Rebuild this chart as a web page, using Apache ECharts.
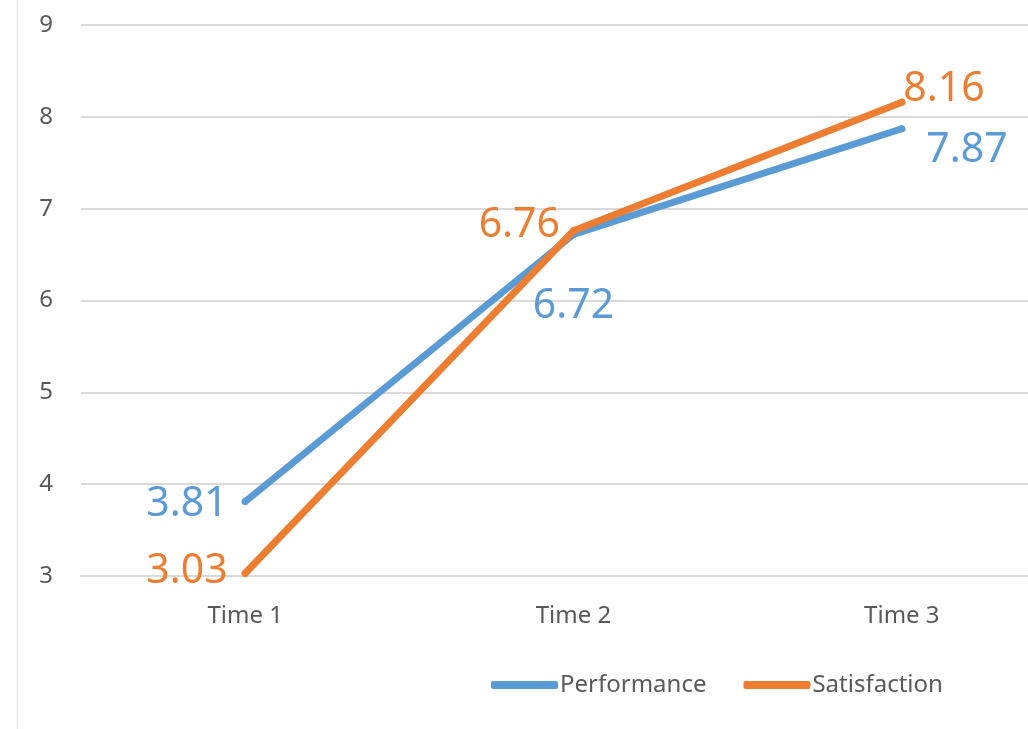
<!DOCTYPE html>
<html>
<head>
<meta charset="utf-8">
<title>Performance and Satisfaction over Time</title>
<script src="https://cdn.jsdelivr.net/npm/echarts@6/dist/echarts.min.js"></script>
<style>
  html, body { margin: 0; padding: 0; background: #ffffff; }
  #chart { width: 1028px; height: 729px; }
</style>
</head>
<body>
<div id="chart"></div>
<script>
// Measurement occasions
const categories = ['Time 1', 'Time 2', 'Time 3'];

// Mean scores per occasion
const performance = [3.81, 6.72, 7.87];
const satisfaction = [3.03, 6.76, 8.16];

// Value axis range and step
const yMin = 3;
const yMax = 9;
const yStep = 1;

const FONT = '"Noto Sans", "DejaVu Sans", sans-serif';
const BLUE = '#5b9bd5';
const ORANGE = '#ed7d31';
const TEXT = '#595959';
const GRID = '#d9d9d9';

// Where each value label sits around its point
const perfLabels = [
  { position: 'left', distance: 14, offset: [0, 3] },
  { position: 'bottom', distance: 48, offset: [0, 0] },
  { position: 'right', distance: 21, offset: [0, 22] }
];
const satLabels = [
  { position: 'left', distance: 14, offset: [0, -2] },
  { position: 'left', distance: 10, offset: [0, -5] },
  { position: 'right', distance: -2, offset: [0, -13] }
];

function withLabels(values, labels) {
  return values.map((v, i) => ({ value: v, label: labels[i] }));
}

const chart = echarts.init(document.getElementById('chart'), null, { renderer: 'canvas' });

chart.setOption({
  backgroundColor: '#ffffff',
  animation: false,
  textStyle: { fontFamily: FONT },
  graphic: [{
    type: 'line',
    shape: { x1: 17.5, y1: 0, x2: 17.5, y2: 729 },
    style: { stroke: '#e6e6e6', lineWidth: 1 },
    silent: true
  }],
  // plot area runs past the right edge of the canvas
  grid: {
    left: 81,
    top: 25,
    bottom: 153,
    right: -38,
    containLabel: false,
    outerBoundsMode: 'none'
  },
  legend: {
    left: 486,
    top: 668,
    itemWidth: 67,
    itemHeight: 8,
    itemGap: 37,
    icon: 'roundRect',
    textStyle: { color: TEXT, fontSize: 24, fontFamily: FONT, padding: [0, 0, 0, -3] },
    data: ['Performance', 'Satisfaction']
  },
  xAxis: {
    type: 'category',
    data: categories,
    boundaryGap: true,
    axisLine: { show: true, lineStyle: { color: GRID, width: 2 } },
    axisTick: { show: false },
    axisLabel: { color: TEXT, fontSize: 24, fontFamily: FONT, margin: 28 },
    splitLine: { show: false }
  },
  yAxis: {
    type: 'value',
    min: yMin,
    max: yMax,
    interval: yStep,
    axisLine: { show: false },
    axisTick: { show: false },
    axisLabel: { color: TEXT, fontSize: 24, fontFamily: FONT, margin: 28 },
    splitLine: { lineStyle: { color: GRID, width: 2 } }
  },
  series: [
    {
      name: 'Performance',
      type: 'line',
      data: withLabels(performance, perfLabels),
      symbol: 'circle',
      symbolSize: 7,
      showSymbol: true,
      itemStyle: { color: BLUE },
      color: BLUE,
      lineStyle: { color: BLUE, width: 7, cap: 'round', join: 'round' },
      label: { show: true, color: BLUE, fontSize: 41, fontFamily: FONT },
      z: 2
    },
    {
      name: 'Satisfaction',
      type: 'line',
      data: withLabels(satisfaction, satLabels),
      symbol: 'circle',
      symbolSize: 7,
      showSymbol: true,
      itemStyle: { color: ORANGE },
      color: ORANGE,
      lineStyle: { color: ORANGE, width: 7, cap: 'round', join: 'round' },
      label: { show: true, color: ORANGE, fontSize: 41, fontFamily: FONT },
      z: 3
    }
  ]
});
</script>
</body>
</html>
